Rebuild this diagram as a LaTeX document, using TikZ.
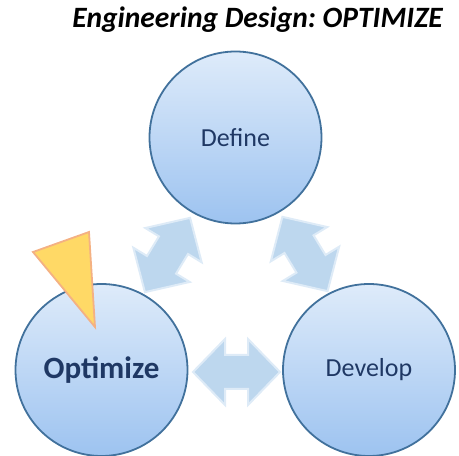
\documentclass[tikz,border=0pt]{standalone}
\usepackage{fontspec}
\setmainfont{Carlito}
\frenchspacing
\definecolor{ringblue}{RGB}{65,113,156}
\definecolor{topblue}{RGB}{222,235,250}
\definecolor{botblue}{RGB}{157,195,240}
\definecolor{txtblue}{RGB}{31,56,100}
\definecolor{arrfill}{RGB}{189,215,238}
\definecolor{arredge}{RGB}{222,235,247}
\definecolor{triyellow}{RGB}{255,217,102}
\definecolor{triorange}{RGB}{244,177,131}
\tikzset{
  phase/.style={circle, minimum size=172pt, inner sep=0pt, draw=ringblue, line width=1.8pt,
    top color=topblue, bottom color=botblue, text=txtblue, font=\fontsize{26}{30}\selectfont},
  blockarrow/.style={fill=arrfill, draw=arredge, line width=2pt, line join=miter},
}
\newcommand{\dblarrow}[3]{%
  \begin{scope}[shift={(#1,#2)}, rotate=#3]
    \draw[blockarrow] (43.5,0) -- (11.5,33) -- (11.5,17) -- (-11.5,17) -- (-11.5,33) -- (-43.5,0)
      -- (-11.5,-33) -- (-11.5,-17) -- (11.5,-17) -- (11.5,-33) -- cycle;
  \end{scope}}
\begin{document}
\begin{tikzpicture}[x=1pt,y=1pt]
\useasboundingbox (0,0) rectangle (459,456);
\node[anchor=base east, inner sep=0pt, font=\fontsize{29.5}{33}\selectfont\bfseries\itshape] (title) at (443,428) {Engineering Design: OPTIMIZE};
\dblarrow{167.5}{201}{58.7}
\dblarrow{305}{202}{121.3}
\dblarrow{236.5}{84}{0}
\node[phase] (define) at (235.5,318.5) {Define};
\node[phase, font=\fontsize{31}{35}\selectfont\bfseries] (optimize) at (101.5,86) {Optimize};
\node[phase] (develop) at (369,86) {Develop};
\draw[fill=triyellow, draw=triorange, line width=1.8pt, line join=miter] (33,204) -- (89,224) -- (95,129) -- cycle;
\end{tikzpicture}
\end{document}
